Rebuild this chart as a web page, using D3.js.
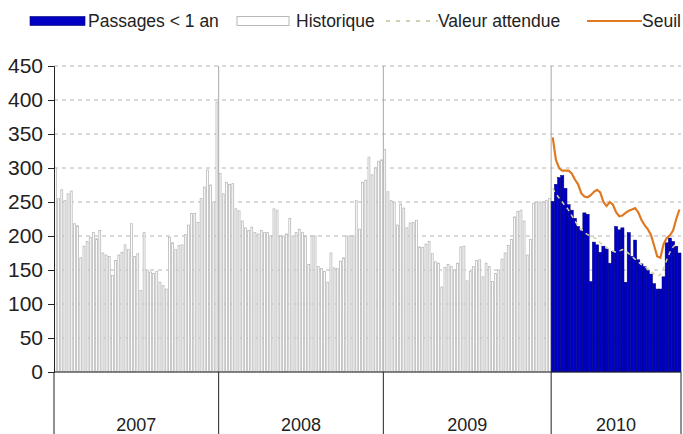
<!DOCTYPE html>
<html lang="fr">

<head>
  <meta charset="UTF-8">
  <title>Passages &lt; 1 an</title>
  <script src="https://d3js.org/d3.v7.min.js"></script>
  <style>
    body { margin: 0; background: #fff; }
    text { font-family: "Liberation Sans", Arial, sans-serif; fill: #222; }
  </style>
</head>

<body>
  <svg id="chart" width="683" height="434"></svg>

  <script>
    // data (weekly counts)
    const years = ["2007", "2008", "2009", "2010"];
    const weeksPerYear = [52, 52, 53, 41];

    const hist2007 = [300, 255, 268, 252, 262, 266, 218, 215, 168, 185, 192, 198, 205, 196, 208, 175, 172, 170, 142, 164,
      172, 176, 187, 180, 218, 170, 174, 120, 205, 150, 147, 145, 148, 132, 127, 122, 198, 190, 180, 186,
      187, 202, 216, 233, 233, 220, 255, 272, 297, 275, 250, 397];
    const hist2008 = [292, 262, 279, 276, 277, 240, 237, 222, 212, 208, 213, 205, 203, 208, 205, 205, 200, 240, 238, 200,
      200, 203, 226, 200, 205, 210, 205, 200, 158, 200, 200, 155, 152, 148, 132, 175, 153, 152, 163, 168,
      200, 200, 200, 252, 210, 279, 282, 316, 290, 300, 310, 312];
    const hist2009 = [327, 265, 252, 250, 216, 247, 241, 212, 219, 220, 223, 184, 183, 188, 192, 174, 162, 160, 125, 154,
      158, 155, 150, 160, 184, 185, 134, 148, 155, 164, 165, 140, 160, 155, 133, 145, 150, 166, 175, 186,
      195, 228, 236, 238, 222, 172, 195, 248, 250, 250, 250, 252, 255];

    const passages2010 = [251, 276, 286, 289, 270, 246, 238, 226, 214, 208, 234, 232, 133, 191, 187, 176, 185, 181, 160, 177,
      214, 209, 212, 132, 205, 170, 194, 165, 159, 155, 149, 144, 130, 122, 122, 140, 190, 197, 192, 185, 175];
    const attendu2010 = [270, 262, 256, 250, 244, 238, 230, 222, 215, 210, 205, 202, 200, 198, 195, 190, 186, 183, 180, 178,
      176, 178, 180, 178, 174, 170, 166, 162, 158, 155, 152, 148, 144, 141, 143, 152, 165, 176, 184, 188, 190];
    const seuil2010 = [345, 312, 300, 296, 296, 296, 292, 283, 276, 263, 258, 257, 260, 265, 268, 264, 250, 244, 250, 246,
      235, 229, 230, 234, 237, 239, 241, 235, 224, 216, 210, 202, 186, 170, 168, 188, 197, 201, 208, 225, 239];

    const yTicks = [0, 50, 100, 150, 200, 250, 300, 350, 400, 450];
    const legendLabels = ["Passages < 1 an", "Historique", "Valeur attendue", "Seuil"];

    //////////////////////////////////////////////////////////////////////////////////
    const svg = d3.select("#chart");
    const margin = { top: 66, right: 2, bottom: 62, left: 54 };
    const width = +svg.attr("width");
    const height = +svg.attr("height");
    const chartBottom = height - margin.bottom;

    // one key per week
    const weeks = [];
    years.forEach((yr, i) => {
      for (let w = 1; w <= weeksPerYear[i]; w++) weeks.push(yr + "-S" + w);
    });
    const histWeeks = weeks.slice(0, 157);
    const weeks2010 = weeks.slice(157);
    const histValues = hist2007.concat(hist2008, hist2009);

    const x = d3.scaleBand().domain(weeks).range([margin.left, width - margin.right]).padding(0);
    const y = d3.scaleLinear().domain([0, 450]).range([chartBottom, margin.top]);
    const bw = x.bandwidth();

    // year boundaries
    const yearStarts = years.map(yr => x(yr + "-S1"));
    const yearEnds = years.map((yr, i) => i < years.length - 1 ? yearStarts[i + 1] : x.range()[1]);

    // grid
    svg.append("g").selectAll("line")
      .data(yTicks.filter(d => d > 0))
      .join("line")
      .attr("x1", margin.left).attr("x2", width - margin.right)
      .attr("y1", d => y(d)).attr("y2", d => y(d))
      .attr("stroke", "#b4b4b4")
      .attr("stroke-dasharray", "4,4");

    svg.append("g").selectAll("line")
      .data(yearStarts.slice(1))
      .join("line")
      .attr("x1", d => d).attr("x2", d => d)
      .attr("y1", margin.top).attr("y2", chartBottom)
      .attr("stroke", "#a8a8a8");

    // historical bars
    svg.append("g").selectAll("rect")
      .data(histValues)
      .join("rect")
      .attr("x", (d, i) => x(histWeeks[i]) + 0.5)
      .attr("y", d => y(d))
      .attr("width", bw - 1.3)
      .attr("height", d => chartBottom - y(d))
      .attr("fill", "#fff")
      .attr("stroke", "#b8b8b8")
      .attr("stroke-width", 0.8);

    // 2010 bars
    svg.append("g").selectAll("rect")
      .data(passages2010)
      .join("rect")
      .attr("x", (d, i) => x(weeks2010[i]))
      .attr("y", d => y(d))
      .attr("width", bw)
      .attr("height", d => chartBottom - y(d))
      .attr("fill", "#0000c4")
      .attr("stroke", "#00006e")
      .attr("stroke-width", 0.5);

    const line = d3.line()
      .x((d, i) => x(weeks2010[i]) + bw / 2)
      .y(d => y(d));

    svg.append("path")
      .datum(attendu2010)
      .attr("d", line)
      .attr("fill", "none")
      .attr("stroke", "#d6d2a4")
      .attr("stroke-width", 1.5)
      .attr("stroke-dasharray", "4,4");

    svg.append("path")
      .datum(seuil2010)
      .attr("d", line)
      .attr("fill", "none")
      .attr("stroke", "#e07a22")
      .attr("stroke-width", 2.2);

    // y axis
    const leftAxis = d3.axisLeft(y).tickValues(yTicks).tickSize(6).tickPadding(5);
    const yAxisArea = svg.append("g")
      .attr("transform", "translate(" + margin.left + ",0)")
      .call(leftAxis);
    yAxisArea.select(".domain").attr("stroke", "#222");
    yAxisArea.selectAll(".tick line").attr("stroke", "#222");
    yAxisArea.selectAll(".tick text")
      .style("font-size", "21px")
      .style("font-family", "'Liberation Sans', Arial, sans-serif")
      .attr("fill", "#222");

    // x axis: baseline + year boxes
    svg.append("line")
      .attr("x1", margin.left).attr("x2", width - margin.right)
      .attr("y1", chartBottom).attr("y2", chartBottom)
      .attr("stroke", "#222");

    svg.append("g").selectAll("line")
      .data(yearStarts.concat([x.range()[1]]))
      .join("line")
      .attr("x1", d => d).attr("x2", d => d)
      .attr("y1", chartBottom).attr("y2", height)
      .attr("stroke", "#222");

    svg.append("g").selectAll("text")
      .data(years)
      .join("text")
      .attr("x", (d, i) => (yearStarts[i] + yearEnds[i]) / 2)
      .attr("y", 431)
      .attr("text-anchor", "middle")
      .style("font-size", "18px")
      .text(d => d);

    // legend
    const legend = svg.append("g").style("font-size", "17.5px");
    const ly = 21;

    legend.append("rect")
      .attr("x", 30).attr("y", ly - 4.5).attr("width", 55).attr("height", 9)
      .attr("fill", "#0000c4").attr("stroke", "#00006e").attr("stroke-width", 0.6);
    legend.append("text").attr("x", 88).attr("y", ly + 6).text(legendLabels[0]);

    legend.append("rect")
      .attr("x", 237).attr("y", ly - 4.5).attr("width", 52).attr("height", 9)
      .attr("fill", "#fff").attr("stroke", "#b8b8b8");
    legend.append("text").attr("x", 296).attr("y", ly + 6).text(legendLabels[1]);

    legend.append("line")
      .attr("x1", 386).attr("x2", 438).attr("y1", ly).attr("y2", ly)
      .attr("stroke", "#c4c09a").attr("stroke-width", 1.5).attr("stroke-dasharray", "4,6");
    legend.append("text").attr("x", 438).attr("y", ly + 6).text(legendLabels[2]);

    legend.append("line")
      .attr("x1", 587).attr("x2", 642).attr("y1", ly).attr("y2", ly)
      .attr("stroke", "#e07a22").attr("stroke-width", 2.2);
    legend.append("text").attr("x", 642).attr("y", ly + 6).text(legendLabels[3]);
  </script>

</body>

</html>
